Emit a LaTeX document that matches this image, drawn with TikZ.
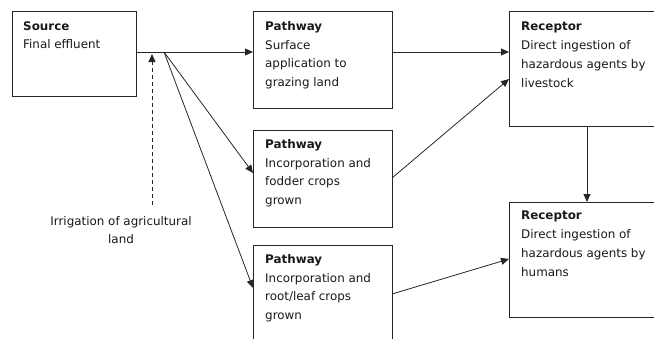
\documentclass[tikz,border=0pt]{standalone}
\usepackage{fontspec}
\setmainfont{DejaVu Sans}
\usetikzlibrary{arrows.meta,calc}
\begin{document}
\begin{tikzpicture}[x=1pt,y=-1pt,
  box/.style={draw=black!85,line width=0.8pt,rectangle,inner sep=0pt,outer sep=0pt,anchor=north west},
  txt/.style={anchor=north west,inner sep=0pt,align=left,text=black!90,font=\fontsize{11.9}{18.8}\selectfont},
  lbl/.style={inner sep=0pt,align=center,text=black!90,font=\fontsize{11.9}{18.8}\selectfont},
  arr/.style={line width=0.8pt,draw=black!85,-{Triangle[length=8pt,width=7pt]}}]
\useasboundingbox (0,0) rectangle (654,338);
% boxes
\node[box,minimum width=124pt,minimum height=85pt] (src) at (12,11) {};
\node[box,minimum width=139pt,minimum height=97pt] (p1) at (253,11) {};
\node[box,minimum width=139pt,minimum height=97pt] (p2) at (253,130) {};
\node[box,minimum width=139pt,minimum height=110pt] (p3) at (253,245) {};
\node[box,minimum width=156pt,minimum height=115pt] (r1) at (509,11) {};
\node[box,minimum width=156pt,minimum height=115pt] (r2) at (509,202) {};
% texts
\node[txt] (tsrc) at ($(src.north west)+(11,10)$) {\textbf{Source}\\Final effluent};
\node[txt] (tp1) at ($(p1.north west)+(12,10)$) {\textbf{Pathway}\\Surface\\application to\\grazing land};
\node[txt] (tp2) at ($(p2.north west)+(12,9)$) {\textbf{Pathway}\\Incorporation and\\fodder crops\\grown};
\node[txt] (tp3) at ($(p3.north west)+(12,9)$) {\textbf{Pathway}\\Incorporation and\\root/leaf crops\\grown};
\node[txt] (tr1) at ($(r1.north west)+(12,11)$) {\textbf{Receptor}\\Direct ingestion of\\hazardous agents by\\livestock};
\node[txt] (tr2) at ($(r2.north west)+(12,9)$) {\textbf{Receptor}\\Direct ingestion of\\hazardous agents by\\humans};
\node[lbl] (irr) at (121,230) {Irrigation of agricultural\\land};
% connectors
\coordinate (j) at (164,52);
\coordinate (d) at (152,205);
\draw[arr] (src.east |- j) -- (p1.west |- j);
\draw[arr] (j) -- ($(p2.north west)+(0,43)$);
\draw[arr] (j) -- ($(p3.north west)+(0,43)$);
\draw[arr,dashed,dash pattern=on 4pt off 3pt] (d) -- ($(d |- j)+(0,2)$);
\draw[arr] (p1.east |- j) -- (r1.west |- j);
\draw[arr] ($(p2.north east)+(0,48)$) -- ($(r1.north west)+(0,68)$);
\draw[arr] ($(p3.north east)+(0,49)$) -- ($(r2.north west)+(0,57)$);
\draw[arr] (r1.south) -- (r2.north);
\end{tikzpicture}
\end{document}
